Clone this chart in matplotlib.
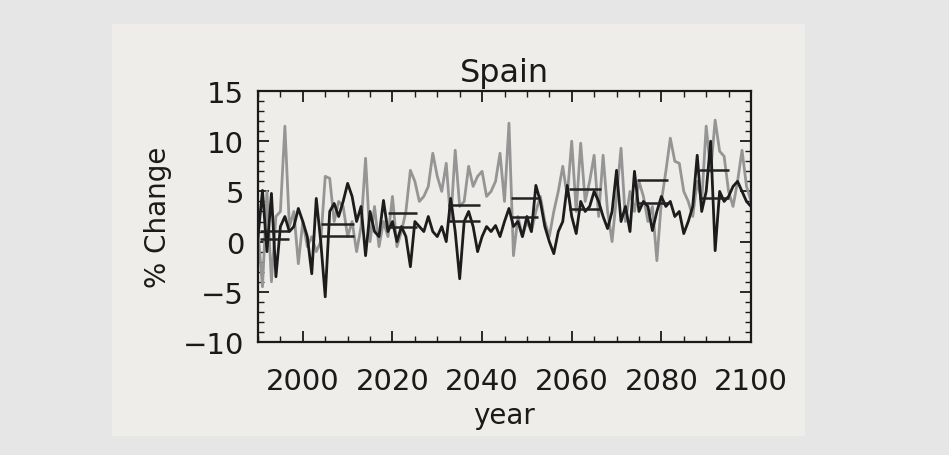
import numpy as np
import matplotlib
matplotlib.use("Agg")
import matplotlib.pyplot as plt
from matplotlib.patches import Rectangle
from matplotlib.ticker import MultipleLocator

# annual values, 1990-2100
years = np.arange(1990, 2101)

gray_vals = [1.0, -4.5, 5.0, -4.0, 2.5, 3.0, 11.5, 1.5, 3.0, -2.2,
             2.0, -0.5, 0.5, -1.0, 0.0, 6.5, 6.3, 2.0, 4.0, 3.5,
             0.5, 2.0, -1.0, 1.5, 8.3, 0.0, 3.5, -0.5, 2.0, 0.5,
             4.5, -0.5, 1.0, 3.0, 7.1, 6.0, 4.0, 4.5, 5.5, 8.8,
             6.5, 5.0, 7.8, 2.0, 9.1, 3.5, 4.0, 7.5, 5.5, 6.5,
             7.0, 4.5, 5.0, 6.0, 8.8, 4.0, 11.8, -1.4, 2.5, 0.5,
             2.0, 1.0, 3.0, 4.5, 2.0, 0.5, 3.0, 5.0, 7.5, 4.5,
             10.0, 3.0, 9.8, 4.0, 6.0, 8.6, 2.5, 8.6, 3.0, 0.0,
             4.5, 9.3, 2.0, 5.0, 3.0, 6.0, 4.5, 2.0, 3.5, -1.9,
             4.0, 7.0, 10.3, 8.0, 7.8, 5.0, 4.0, 2.5, 6.0, 4.0,
             11.5, 7.0, 12.1, 9.0, 8.5, 5.0, 3.5, 6.0, 9.1, 5.5,
             4.0]

black_vals = [0.5, 5.1, -1.0, 4.8, -3.5, 1.5, 2.5, 1.0, 1.5, 3.3,
              2.0, 0.5, -3.2, 4.3, 0.0, -5.5, 3.0, 3.8, 2.5, 4.0,
              5.8, 4.5, 2.0, 3.5, -1.4, 3.0, 1.0, 0.5, 4.1, 1.0,
              2.0, 0.0, 1.5, 0.5, -2.5, 2.0, 1.5, 1.0, 2.5, 1.0,
              0.5, 1.5, 0.0, 4.3, 1.0, -3.7, 2.0, 3.0, 1.5, -1.0,
              0.5, 1.5, 1.0, 1.6, 0.5, 2.0, 3.3, 1.5, 2.0, 0.5,
              2.5, 1.0, 5.6, 4.0, 1.5, 0.0, -1.2, 1.0, 2.0, 5.6,
              2.5, 0.8, 4.0, 3.0, 3.5, 5.0, 4.0, 2.5, 1.3, 3.0,
              7.1, 2.0, 3.5, 1.0, 7.0, 3.0, 4.0, 3.5, 1.1, 3.0,
              4.5, 3.5, 4.0, 2.5, 3.0, 0.8, 2.0, 3.5, 8.6, 3.0,
              5.0, 10.0, -0.9, 5.0, 4.0, 4.5, 5.5, 6.0, 5.0, 4.0,
              3.5]

# window means drawn as short horizontal bars
seg_start = [1990.5, 2004, 2019, 2032.5, 2046.5, 2059.5, 2074.5, 2088.5]
seg_end = [1997, 2011.5, 2025.5, 2039.5, 2052.5, 2066.5, 2081.5, 2095]
seg_upper = [1.1, 1.8, 2.8, 3.6, 4.3, 5.2, 6.1, 7.1]
seg_lower = [0.3, 0.6, 1.5, 2.1, 2.5, 3.2, 3.8, 4.3]

outer = "#e6e6e6"
panel = "#eeede9"
ink = "#1a1a1a"

fig = plt.figure(figsize=(9.49, 4.56), dpi=100, facecolor=outer)
fig.patches.append(Rectangle((112/949, 19/456), 693/949, 412/456,
                             transform=fig.transFigure, facecolor=panel,
                             edgecolor="none", zorder=-10))

ax = fig.add_axes([258/949, 113/456, 493/949, 251/456])
ax.set_facecolor(panel)

ax.plot(years, gray_vals, color="#959595", lw=2.0)
ax.plot(years, black_vals, color="#1c1c1c", lw=2.0)
ax.hlines(seg_upper, seg_start, seg_end, color="#222222", lw=1.8)
ax.hlines(seg_lower, seg_start, seg_end, color="#222222", lw=1.8)

ax.set_xlim(1990, 2100)
ax.set_ylim(-10, 15)
ax.xaxis.set_major_locator(MultipleLocator(20))
ax.xaxis.set_minor_locator(MultipleLocator(5))
ax.yaxis.set_major_locator(MultipleLocator(5))
ax.yaxis.set_minor_locator(MultipleLocator(1))
ax.tick_params(which="both", direction="in", top=True, right=True,
               labelsize=21, color=ink, labelcolor=ink)
ax.tick_params(axis="x", pad=18)
ax.tick_params(axis="y", pad=10)
ax.tick_params(which="major", length=8, width=1.3)
ax.tick_params(which="minor", length=4, width=1.0)
for s in ax.spines.values():
    s.set_linewidth(1.6)
    s.set_color(ink)

ax.set_yticks([-10, -5, 0, 5, 10, 15])
ax.set_yticklabels(["\u221210", "\u22125", "0", "5", "10", "15"])

ax.set_title("Spain", fontsize=23, pad=7, color=ink)
ax.set_xlabel("year", fontsize=20, labelpad=4, color=ink)
ax.set_ylabel("% Change", fontsize=20, labelpad=8, color=ink)

fig.savefig("out.png", dpi=100, facecolor=outer)
